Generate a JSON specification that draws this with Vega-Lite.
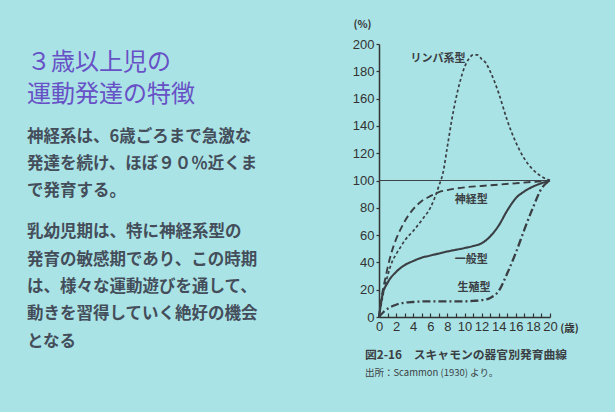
{
  "$schema": "https://vega.github.io/schema/vega-lite/v6.json",
  "width": 171,
  "height": 273,
  "autosize": {"type": "none"},
  "padding": {"left": 379, "top": 44, "right": 65, "bottom": 95},
  "background": "#aae3e5",
  "config": {"view": {"stroke": null}, "font": "Noto Sans CJK JP"},
  "datasets": {
    "curves": [
      {"s": "lymph", "age": 0, "pct": 0}, {"s": "lymph", "age": 0.5, "pct": 17}, {"s": "lymph", "age": 1, "pct": 30}, {"s": "lymph", "age": 1.5, "pct": 40}, {"s": "lymph", "age": 2, "pct": 46}, {"s": "lymph", "age": 2.5, "pct": 51}, {"s": "lymph", "age": 3, "pct": 56}, {"s": "lymph", "age": 4, "pct": 63}, {"s": "lymph", "age": 5, "pct": 71}, {"s": "lymph", "age": 6, "pct": 80}, {"s": "lymph", "age": 6.5, "pct": 87}, {"s": "lymph", "age": 7, "pct": 96}, {"s": "lymph", "age": 7.5, "pct": 106}, {"s": "lymph", "age": 8, "pct": 125}, {"s": "lymph", "age": 8.5, "pct": 144}, {"s": "lymph", "age": 9, "pct": 160}, {"s": "lymph", "age": 9.5, "pct": 173}, {"s": "lymph", "age": 10, "pct": 183}, {"s": "lymph", "age": 10.5, "pct": 189}, {"s": "lymph", "age": 11, "pct": 192}, {"s": "lymph", "age": 11.5, "pct": 192}, {"s": "lymph", "age": 12, "pct": 189}, {"s": "lymph", "age": 12.5, "pct": 186}, {"s": "lymph", "age": 13, "pct": 180}, {"s": "lymph", "age": 14, "pct": 164}, {"s": "lymph", "age": 15, "pct": 144}, {"s": "lymph", "age": 16, "pct": 128}, {"s": "lymph", "age": 17, "pct": 116}, {"s": "lymph", "age": 18, "pct": 108}, {"s": "lymph", "age": 19, "pct": 103}, {"s": "lymph", "age": 20, "pct": 100},
      {"s": "neural", "age": 0, "pct": 0}, {"s": "neural", "age": 0.4, "pct": 18}, {"s": "neural", "age": 0.8, "pct": 30}, {"s": "neural", "age": 1, "pct": 36}, {"s": "neural", "age": 1.5, "pct": 48}, {"s": "neural", "age": 2, "pct": 57}, {"s": "neural", "age": 2.5, "pct": 64}, {"s": "neural", "age": 3, "pct": 70}, {"s": "neural", "age": 4, "pct": 79}, {"s": "neural", "age": 5, "pct": 85}, {"s": "neural", "age": 6, "pct": 88.5}, {"s": "neural", "age": 7, "pct": 91.5}, {"s": "neural", "age": 8, "pct": 93}, {"s": "neural", "age": 10, "pct": 95}, {"s": "neural", "age": 12, "pct": 96}, {"s": "neural", "age": 14, "pct": 97}, {"s": "neural", "age": 16, "pct": 98}, {"s": "neural", "age": 18, "pct": 99}, {"s": "neural", "age": 20, "pct": 100},
      {"s": "general", "age": 0, "pct": 0}, {"s": "general", "age": 0.4, "pct": 16}, {"s": "general", "age": 1, "pct": 25}, {"s": "general", "age": 2, "pct": 33}, {"s": "general", "age": 3, "pct": 38}, {"s": "general", "age": 4, "pct": 41}, {"s": "general", "age": 5, "pct": 43.5}, {"s": "general", "age": 6, "pct": 45}, {"s": "general", "age": 8, "pct": 48}, {"s": "general", "age": 10, "pct": 50.5}, {"s": "general", "age": 11, "pct": 52}, {"s": "general", "age": 12, "pct": 54}, {"s": "general", "age": 13, "pct": 59}, {"s": "general", "age": 14, "pct": 67}, {"s": "general", "age": 15, "pct": 78}, {"s": "general", "age": 16, "pct": 87}, {"s": "general", "age": 17, "pct": 92}, {"s": "general", "age": 18, "pct": 95.5}, {"s": "general", "age": 19, "pct": 98}, {"s": "general", "age": 20, "pct": 100},
      {"s": "reproductive", "age": 0, "pct": 0}, {"s": "reproductive", "age": 0.5, "pct": 3.5}, {"s": "reproductive", "age": 1, "pct": 6}, {"s": "reproductive", "age": 2, "pct": 9}, {"s": "reproductive", "age": 3, "pct": 10.5}, {"s": "reproductive", "age": 4, "pct": 11}, {"s": "reproductive", "age": 6, "pct": 11.5}, {"s": "reproductive", "age": 8, "pct": 11.5}, {"s": "reproductive", "age": 10, "pct": 11.5}, {"s": "reproductive", "age": 11, "pct": 11.8}, {"s": "reproductive", "age": 12, "pct": 12.3}, {"s": "reproductive", "age": 13, "pct": 14}, {"s": "reproductive", "age": 14, "pct": 19}, {"s": "reproductive", "age": 15, "pct": 32}, {"s": "reproductive", "age": 16, "pct": 47}, {"s": "reproductive", "age": 17, "pct": 64}, {"s": "reproductive", "age": 18, "pct": 80}, {"s": "reproductive", "age": 19, "pct": 94}, {"s": "reproductive", "age": 20, "pct": 100}
    ],
    "labels": [
      {"label": "リンパ系型", "age": 6.9, "pct": 189},
      {"label": "神経型", "age": 10.8, "pct": 86},
      {"label": "一般型", "age": 10.8, "pct": 42},
      {"label": "生殖型", "age": 11.1, "pct": 21.5}
    ],
    "notes": [
      {"kind": "title", "col": 0, "row": 0.7, "text": "３歳以上児の"},
      {"kind": "title", "col": 0, "row": 1.87, "text": "運動発達の特徴"},
      {"kind": "body", "col": 0, "row": 3.4, "text": "神経系は、6歳ごろまで急激な"},
      {"kind": "body", "col": 0, "row": 4.4, "text": "発達を続け、ほぼ９０％近くま"},
      {"kind": "body", "col": 0, "row": 5.4, "text": "で発育する。"},
      {"kind": "body", "col": 0, "row": 6.9, "text": "乳幼児期は、特に神経系型の"},
      {"kind": "body", "col": 0, "row": 7.9, "text": "発育の敏感期であり、この時期"},
      {"kind": "body", "col": 0, "row": 8.9, "text": "は、様々な運動遊びを通して、"},
      {"kind": "body", "col": 0, "row": 9.9, "text": "動きを習得していく絶好の機会"},
      {"kind": "body", "col": 0, "row": 10.9, "text": "となる"},
      {"kind": "caption", "col": 0.96, "row": 11.4, "text": "図2-16　スキャモンの器官別発育曲線"},
      {"kind": "source", "col": 0.96, "row": 12.05, "text": "出所：Scammon (1930) より。"}
    ]
  },
  "layer": [
    {
      "data": {"values": [{"level": 100}]},
      "mark": {"type": "rule", "color": "#3d4246", "strokeWidth": 1.1},
      "encoding": {"y": {"field": "level", "type": "quantitative", "scale": {"domain": [0, 200], "nice": false}, "axis": null}}
    },
    {
      "data": {"name": "curves"},
      "mark": {"type": "line", "interpolate": "monotone", "color": "#3a3f44"},
      "encoding": {
        "x": {
          "field": "age", "type": "quantitative",
          "scale": {"domain": [0, 20], "nice": false},
          "axis": {
            "values": [0,1,2,3,4,5,6,7,8,9,10,11,12,13,14,15,16,17,18,19,20],
            "labelExpr": "datum.value % 2 === 0 ? datum.label : ''",
            "labelFont": "Liberation Sans Narrow, Liberation Sans",
            "labelFontSize": 13, "labelColor": "#333", "labelPadding": 7, "labelFlush": false,
            "tickSize": -4, "tickColor": "#333", "tickWidth": 1.2,
            "domainColor": "#333", "domainWidth": 1.5, "grid": false,
            "title": "(歳)", "titleFontSize": 10.5, "titleFontWeight": "bold", "titleColor": "#333",
            "titleX": 190, "titleY": 11, "titleAlign": "center", "titleBaseline": "middle"
          }
        },
        "y": {
          "field": "pct", "type": "quantitative",
          "scale": {"domain": [0, 200], "nice": false},
          "axis": {
            "values": [0,20,40,60,80,100,120,140,160,180,200],
            "labelFont": "Liberation Sans Narrow, Liberation Sans",
            "labelFontSize": 13, "labelColor": "#333", "labelPadding": 2,
            "tickSize": 3, "tickColor": "#333", "tickWidth": 1.2,
            "domainColor": "#333", "domainWidth": 1.5, "grid": false,
            "title": "(%)", "titleFontSize": 10.5, "titleFontWeight": "bold", "titleColor": "#333",
            "titleAngle": 0, "titleX": -17, "titleY": -20, "titleAlign": "center", "titleBaseline": "middle"
          }
        },
        "strokeDash": {
          "field": "s", "type": "nominal",
          "scale": {"domain": ["lymph", "neural", "general", "reproductive"], "range": [[3, 2.5], [7, 4], [1, 0], [8, 3, 2, 3]]},
          "legend": null
        },
        "strokeWidth": {
          "field": "s", "type": "nominal",
          "scale": {"domain": ["lymph", "neural", "general", "reproductive"], "range": [1.7, 2.3, 2.3, 1.7]},
          "legend": null
        }
      }
    },
    {
      "data": {"name": "labels"},
      "mark": {"type": "text", "fontSize": 11, "fontWeight": "bold", "color": "#3a3f44", "align": "center", "baseline": "middle"},
      "encoding": {
        "x": {"field": "age", "type": "quantitative", "scale": {"domain": [0, 20], "nice": false}, "axis": null},
        "y": {"field": "pct", "type": "quantitative", "scale": {"domain": [0, 200], "nice": false}, "axis": null},
        "text": {"field": "label"}
      }
    },
    {
      "data": {"name": "notes"},
      "transform": [{"filter": "datum.kind === 'title'"}],
      "mark": {"type": "text", "align": "left", "baseline": "middle", "fontSize": 24, "color": "#6751c6"},
      "encoding": {
        "x": {"field": "col", "type": "quantitative", "scale": {"domain": [0, 1], "range": [-352, 0]}, "axis": null},
        "y": {"field": "row", "type": "quantitative", "scale": {"domain": [0, 10], "range": [0, 273]}, "axis": null},
        "text": {"field": "text"}
      }
    },
    {
      "data": {"name": "notes"},
      "transform": [{"filter": "datum.kind === 'body'"}],
      "mark": {"type": "text", "align": "left", "baseline": "middle", "fontSize": 16.5, "fontWeight": "bold", "color": "#444e5b"},
      "encoding": {
        "x": {"field": "col", "type": "quantitative", "scale": {"domain": [0, 1], "range": [-352, 0]}, "axis": null},
        "y": {"field": "row", "type": "quantitative", "scale": {"domain": [0, 10], "range": [0, 273]}, "axis": null},
        "text": {"field": "text"}
      }
    },
    {
      "data": {"name": "notes"},
      "transform": [{"filter": "datum.kind === 'caption'"}],
      "mark": {"type": "text", "align": "left", "baseline": "middle", "fontSize": 11.8, "fontWeight": "bold", "color": "#3a3f44"},
      "encoding": {
        "x": {"field": "col", "type": "quantitative", "scale": {"domain": [0, 1], "range": [-352, 0]}, "axis": null},
        "y": {"field": "row", "type": "quantitative", "scale": {"domain": [0, 10], "range": [0, 273]}, "axis": null},
        "text": {"field": "text"}
      }
    },
    {
      "data": {"name": "notes"},
      "transform": [{"filter": "datum.kind === 'source'"}],
      "mark": {"type": "text", "align": "left", "baseline": "middle", "fontSize": 9.5, "color": "#3a3f44"},
      "encoding": {
        "x": {"field": "col", "type": "quantitative", "scale": {"domain": [0, 1], "range": [-352, 0]}, "axis": null},
        "y": {"field": "row", "type": "quantitative", "scale": {"domain": [0, 10], "range": [0, 273]}, "axis": null},
        "text": {"field": "text"}
      }
    }
  ],
  "resolve": {"scale": {"x": "independent", "y": "independent"}}
}
